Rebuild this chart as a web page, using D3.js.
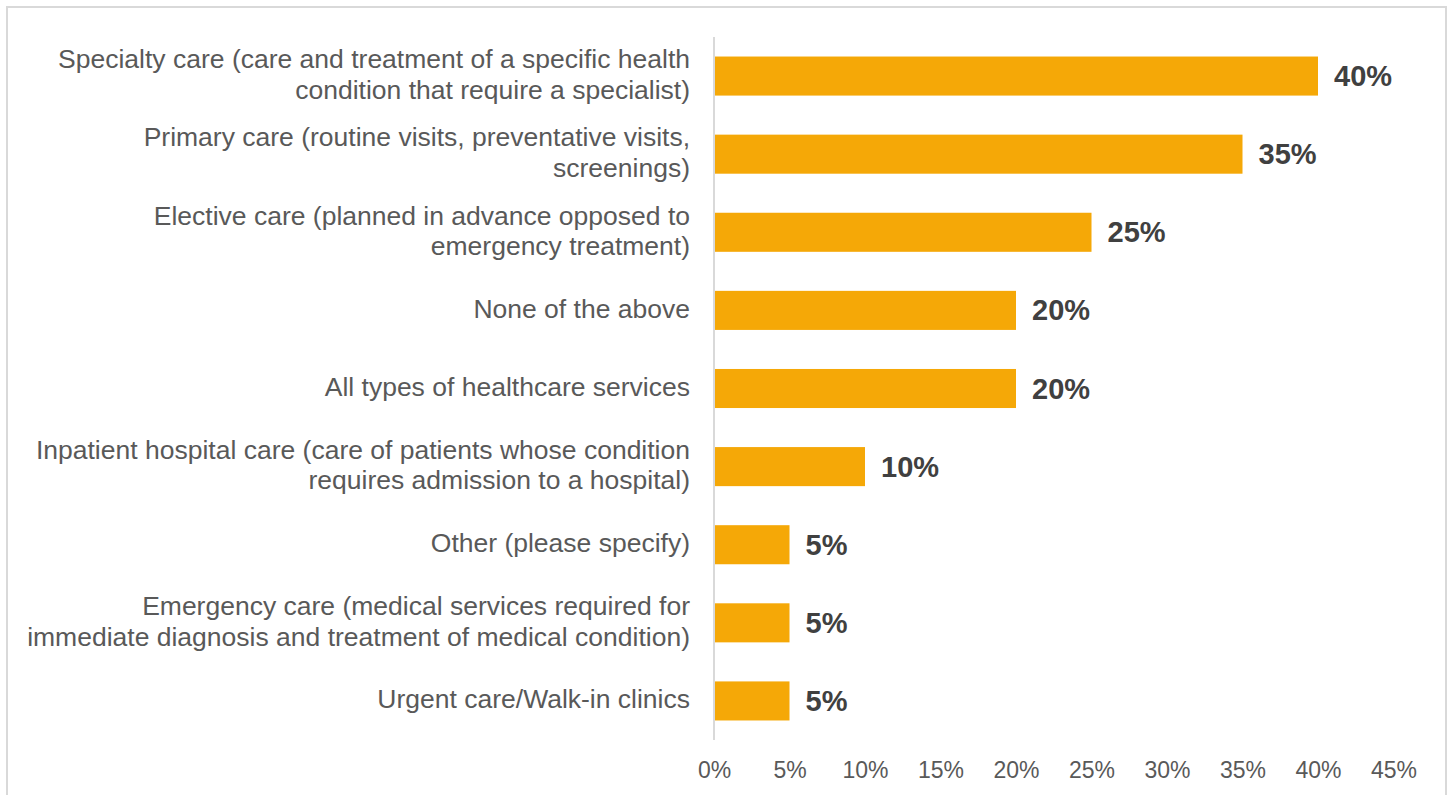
<!DOCTYPE html>
<html>
<head>
<meta charset="utf-8">
<script src="https://cdn.jsdelivr.net/npm/d3@7"></script>
<style>
  html, body { margin: 0; padding: 0; background: #fff; }
  svg { display: block; }
</style>
</head>
<body>
<svg id="chart" width="1453" height="795"></svg>
<script>
// Survey responses: type of healthcare service
const categories = [
  ["Specialty care (care and treatment of a specific health", "condition that require a specialist)"],
  ["Primary care (routine visits, preventative visits,", "screenings)"],
  ["Elective care (planned in advance opposed to", "emergency treatment)"],
  ["None of the above"],
  ["All types of healthcare services"],
  ["Inpatient hospital care (care of patients whose condition", "requires admission to a hospital)"],
  ["Other (please specify)"],
  ["Emergency care (medical services required for", "immediate diagnosis and treatment of medical condition)"],
  ["Urgent care/Walk-in clinics"]
];
const values = [40, 35, 25, 20, 20, 10, 5, 5, 5];
const tickValues = [0, 5, 10, 15, 20, 25, 30, 35, 40, 45];

const svg = d3.select("#chart");
const font = "'Liberation Sans', Arial, sans-serif";

// outer chart frame
svg.append("rect")
  .attr("x", 7).attr("y", 7)
  .attr("width", 1439).attr("height", 800)
  .attr("fill", "none").attr("stroke", "#d9d9d9").attr("stroke-width", 2);

const x = d3.scaleLinear().domain([0, 45]).range([714, 1393.5]);
const y = d3.scaleBand().domain(d3.range(categories.length)).range([37, 740]).paddingInner(0.5).paddingOuter(0.25);

// bars
svg.append("g").selectAll("rect").data(values).join("rect")
  .attr("x", x(0))
  .attr("y", (d, i) => y(i))
  .attr("width", d => x(d) - x(0))
  .attr("height", y.bandwidth())
  .attr("fill", "#F5A807");

// vertical category axis line
svg.append("line")
  .attr("x1", x(0)).attr("x2", x(0))
  .attr("y1", 37).attr("y2", 740)
  .attr("stroke", "#d9d9d9").attr("stroke-width", 2);

// category labels
const lineH = 30.5;
const lab = svg.append("g").selectAll("text").data(categories).join("text")
  .attr("x", 690)
  .attr("y", (d, i) => y(i) + y.bandwidth() / 2)
  .attr("text-anchor", "end")
  .attr("font-family", font)
  .attr("font-size", 26.5)
  .attr("fill", "#595959");
lab.each(function(d) {
  const t = d3.select(this);
  const n = d.length;
  d.forEach((line, k) => {
    t.append("tspan")
      .attr("x", 690)
      .attr("dy", k === 0 ? ((-(n - 1) / 2) * lineH + 7.5) : lineH)
      .text(line);
  });
});

// value labels
svg.append("g").selectAll("text").data(values).join("text")
  .attr("x", d => x(d) + 16)
  .attr("y", (d, i) => y(i) + y.bandwidth() / 2 + 10)
  .attr("font-family", font)
  .attr("font-size", 29)
  .attr("font-weight", "bold")
  .attr("fill", "#404040")
  .text(d => d + "%");

// value axis (labels only)
const axis = d3.axisBottom(x).tickValues(tickValues).tickFormat(d => d + "%").tickSize(0).tickPadding(0);
const ax = svg.append("g").attr("transform", "translate(0,762)").call(axis);
ax.select(".domain").remove();
ax.selectAll("text")
  .attr("font-family", font)
  .attr("font-size", 23)
  .attr("fill", "#595959")
  .attr("dy", "0.71em");
</script>
</body>
</html>
